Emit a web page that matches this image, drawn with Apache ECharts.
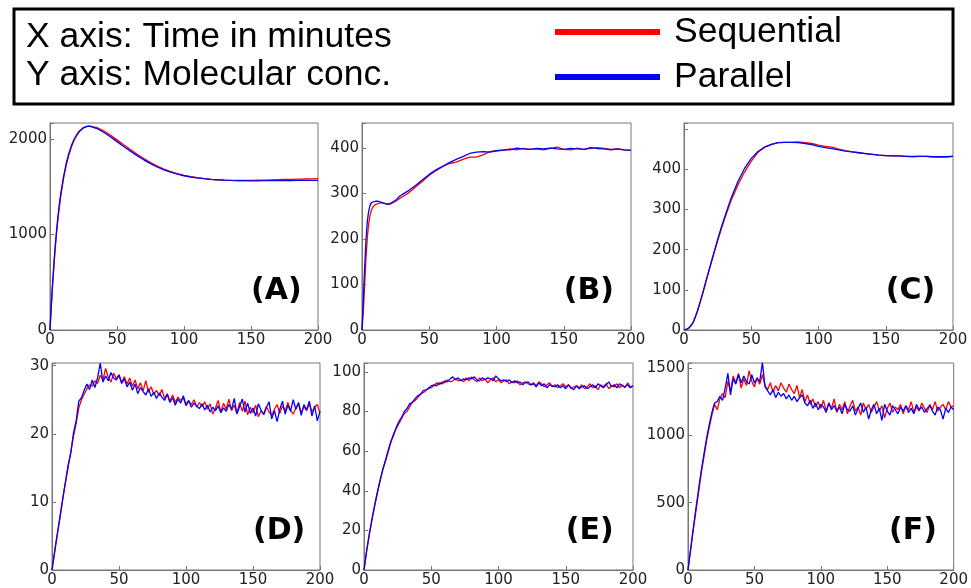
<!DOCTYPE html>
<html>
<head>
<meta charset="utf-8">
<script src="https://cdn.jsdelivr.net/npm/echarts@6/dist/echarts.min.js"></script>
<style>
  html, body { margin: 0; padding: 0; background: #fff; }
  #main { width: 971px; height: 588px; }
</style>
</head>
<body>
<div id="main"></div>
<script>
// sample times (minutes)
var tSmooth = [0, 1, 2, 3, 4, 5, 6, 7, 8, 10, 12, 14, 16, 18, 20, 22, 25, 28,
  30, 35, 40, 45, 50, 55, 60, 65, 70, 75, 80, 85, 90, 95, 100, 105, 110, 115, 120,
  125, 130, 135, 140, 145, 150, 155, 160, 165, 170, 175, 180, 185, 190, 195, 200];
var tNoisy = Array.from({ length: 101 }, function (_, i) { return i * 2; });

// (A)
var seqA = [0, 250, 480, 680, 870, 1030, 1170, 1290, 1400, 1580, 1720, 1830, 1920, 1990, 2040, 2080, 2118, 2135,
  2137, 2122, 2088, 2043, 1993, 1942, 1892, 1843, 1797, 1755, 1718, 1687, 1661, 1639, 1621, 1607, 1596, 1587, 1580,
  1575, 1571, 1568, 1567, 1567, 1568, 1570, 1572, 1574, 1576, 1578, 1580, 1582, 1583, 1585, 1586];
var parA = [0, 270, 510, 720, 900, 1060, 1200, 1320, 1425, 1600, 1740, 1848, 1933, 2000, 2050, 2086, 2122, 2136,
  2135, 2112, 2073, 2026, 1975, 1924, 1875, 1828, 1784, 1744, 1709, 1679, 1654, 1634, 1617, 1604, 1594, 1586, 1580,
  1575, 1571, 1568, 1566, 1565, 1564, 1564, 1565, 1565, 1566, 1567, 1567, 1568, 1568, 1568, 1568];

// (B)
var seqB = [0, 40, 100, 160, 205, 235, 252, 263, 270, 276, 278, 280, 279, 277, 276, 278, 283, 289,
  293, 302, 315, 327, 340, 350, 359, 366, 369, 375, 380, 380, 385, 392, 394, 395, 398, 396, 399,
  397, 398, 396, 399, 402, 397, 396, 400, 397, 399, 401, 399, 397, 398, 396, 395];
var parB = [0, 70, 140, 200, 240, 262, 274, 280, 283, 283, 283, 281, 279, 277, 277, 280, 285, 294,
  298, 307, 318, 330, 342, 352, 360, 368, 375, 381, 388, 391, 392, 391, 394, 396, 396, 400, 398,
  397, 399, 398, 400, 398, 397, 399, 398, 397, 401, 399, 398, 396, 398, 396, 395];

// (C)
var seqC = [0, 1, 2, 4, 6, 9, 14, 20, 28, 46, 68, 91, 116, 140, 164, 187, 222, 254,
  275, 322, 360, 393, 420, 442, 455, 462, 466, 467, 467, 468, 466, 464, 460, 457, 455, 450, 446,
  443, 441, 439, 437, 435, 434, 433, 433, 432, 431, 432, 432, 431, 430, 431, 432];
var parC = [0, 1, 2, 4, 6, 10, 15, 21, 29, 48, 70, 93, 118, 142, 166, 190, 225, 258,
  279, 328, 369, 402, 427, 444, 455, 462, 466, 467, 467, 466, 464, 461, 457, 454, 451, 448, 445,
  443, 441, 439, 437, 435, 434, 433, 433, 432, 432, 432, 432, 431, 431, 431, 432];

// (D)
var seqD = [0,
  2.6, 5.2, 7.7, 10.3, 12.8, 15.0, 17.4, 19.6, 21.5, 23.8,
  25.0, 25.8, 26.6, 27.2, 27.0, 27.8, 27.4, 28.6, 27.9, 29.6,
  28.3, 27.6, 28.9, 28.1, 28.7, 27.5, 28.4, 27.3, 28.2, 27.0,
  27.9, 26.6, 27.5, 26.3, 27.8, 26.1, 26.9, 25.8, 26.4, 25.6,
  26.5, 25.2, 25.9, 24.8, 25.7, 24.6, 25.4, 24.9, 25.3, 24.1,
  24.8, 24.3, 25.0, 23.9, 24.6, 24.0, 24.7, 23.6, 24.4, 22.9,
  23.8, 24.9, 23.2, 24.5, 23.6, 25.1, 23.4, 24.2, 23.0, 24.6,
  23.3, 24.8, 22.8, 23.9, 23.1, 24.2, 22.5, 23.4, 22.9, 24.0,
  23.2, 22.7, 23.6, 24.3, 23.0, 24.1, 23.3, 24.6, 23.5, 22.9,
  23.8, 24.4, 23.1, 24.0, 23.4, 24.5, 23.2, 23.9, 24.3, 23.0];
var parD = [0,
  2.8, 5.4, 7.9, 10.5, 12.9, 15.4, 17.1, 20.1, 21.9, 24.8,
  25.3, 26.4, 27.3, 26.5, 27.9, 26.8, 28.2, 30.4, 27.6, 28.5,
  27.8, 29.0, 28.2, 27.9, 28.6, 27.4, 28.1, 26.9, 27.6, 26.4,
  27.3, 25.9, 26.8, 26.2, 25.7, 26.6, 25.5, 26.1, 25.2, 26.0,
  25.4, 24.9, 25.8, 24.6, 25.3, 24.2, 25.1, 24.5, 25.6, 24.3,
  24.9, 23.9, 24.5, 24.1, 23.7, 24.4, 23.5, 24.2, 23.2, 23.9,
  23.4, 24.1, 23.1, 23.8, 23.3, 24.3, 23.6, 25.2, 22.9, 24.0,
  25.1, 23.2, 24.5, 23.0, 23.8, 22.6, 24.4, 23.5, 22.8, 23.9,
  24.7, 22.2, 23.4, 21.8, 23.6, 24.8, 22.9, 24.2, 23.3, 25.0,
  23.6, 24.6, 22.7, 24.3, 23.5, 24.8, 22.6, 24.1, 21.9, 23.3];

// (E)
var seqE = [0,
  9.5, 18, 25.5, 32.5, 39, 45, 50.5, 55, 59.5, 64.5,
  68, 71.5, 74, 76.5, 79, 80, 82.5, 85, 85.5, 87,
  89, 89.5, 90.5, 92, 92, 93, 94.5, 93.5, 95, 94.5,
  96, 95, 95.5, 96.5, 95.5, 96, 95, 97, 95.5, 97.5,
  96, 95, 97, 95.5, 96.5, 94.5, 96, 97, 95, 96,
  94.5, 95.5, 96, 94, 95, 94.5, 95.5, 93.5, 94.5, 95,
  94, 93.5, 94.5, 93, 95, 94, 92.5, 93.5, 94.5, 92.5,
  93.5, 92, 93, 94, 92.5, 93.5, 91.5, 92.5, 93, 92,
  93.5, 91.5, 92.5, 94, 92, 93, 91, 93.5, 92.5, 94,
  91.5, 93, 92.5, 94, 92, 93.5, 92, 94.5, 92.5, 93];
var parE = [0,
  10, 18.5, 26, 33, 39.5, 45.5, 51, 55.5, 60.5, 65,
  68.5, 72, 75, 77, 80, 81.5, 84, 84.5, 86.5, 88,
  88.5, 90.5, 91, 91.5, 93, 93.5, 93, 94.5, 94, 95.5,
  95, 96.5, 97.5, 96, 97, 95.5, 96.5, 96, 97, 96.5,
  97.5, 96, 95.5, 97, 96, 97, 96.5, 95.5, 98, 96.5,
  95.5, 96, 95, 96, 94.5, 95.5, 94.5, 95, 93.5, 94.5,
  95, 93.5, 94, 92.5, 94.5, 93, 94, 92, 93.5, 93,
  92.5, 93.5, 92, 93, 91.5, 93.5, 92, 91, 93, 91.5,
  92.5, 93, 91.5, 92.5, 93.5, 92, 94, 93, 92, 93.5,
  95, 92.5, 93.5, 92, 94, 93, 92.5, 93.5, 92, 93];

// (F)
var seqF = [0,
  150, 300, 440, 580, 720, 840, 960, 1060, 1150, 1230,
  1190, 1270, 1310, 1280, 1400, 1330, 1440, 1390, 1460, 1350,
  1420, 1370, 1480, 1400, 1360, 1430, 1380, 1450, 1370, 1340,
  1390, 1320, 1370, 1330, 1390, 1350, 1320, 1380, 1340, 1310,
  1370, 1280, 1340, 1250, 1300, 1230, 1270, 1210, 1250, 1200,
  1260, 1180, 1240, 1200, 1270, 1170, 1230, 1190, 1250, 1160,
  1220, 1260, 1180, 1210, 1150, 1240, 1190, 1230, 1170, 1210,
  1250, 1180, 1220, 1130, 1200, 1240, 1170, 1210, 1190, 1230,
  1160, 1220, 1190, 1250, 1170, 1210, 1180, 1240, 1200, 1170,
  1230, 1190, 1250, 1180, 1210, 1230, 1190, 1250, 1210, 1220];
var parF = [0,
  160, 310, 460, 600, 740, 860, 980, 1080, 1170, 1240,
  1250, 1290, 1260, 1350, 1460, 1300, 1420, 1380, 1450, 1390,
  1440, 1400, 1380, 1450, 1390, 1420, 1400, 1540, 1360, 1330,
  1300, 1340, 1280, 1320, 1290, 1310, 1270, 1300, 1260, 1290,
  1250, 1280, 1300, 1240, 1220, 1260, 1200, 1240, 1190, 1230,
  1210, 1170, 1240, 1190, 1220, 1180, 1210, 1160, 1230, 1190,
  1180, 1220, 1150, 1200, 1240, 1170, 1210, 1120, 1190, 1230,
  1160, 1200, 1110, 1230, 1180, 1150, 1220, 1190, 1160, 1210,
  1180, 1220, 1170, 1200, 1160, 1230, 1190, 1210, 1170, 1200,
  1220, 1180, 1150, 1210, 1190, 1120, 1200, 1170, 1210, 1190];

var panelNames = ['(A)', '(B)', '(C)', '(D)', '(E)', '(F)'];
var yMax = [2170, 455, 515, 30.4, 104.5, 1537];
var yStep = [1000, 100, 100, 10, 20, 500];
var yLabelTop = [2000, 400, 400, 30, 100, 1500];

var panels = [
  { t: tSmooth, seq: seqA, par: parA },
  { t: tSmooth, seq: seqB, par: parB },
  { t: tSmooth, seq: seqC, par: parC },
  { t: tNoisy, seq: seqD, par: parD },
  { t: tNoisy, seq: seqE, par: parE },
  { t: tNoisy, seq: seqF, par: parF }
];

// plot boxes in pixels
var boxes = [
  { left: 50, top: 123, width: 268, height: 207 },
  { left: 362, top: 123, width: 269, height: 207 },
  { left: 684, top: 123, width: 269, height: 207 },
  { left: 52, top: 363, width: 268, height: 207 },
  { left: 364, top: 363, width: 269, height: 207 },
  { left: 688, top: 363, width: 268, height: 207 }
];

var tickFont = { fontFamily: 'DejaVu Sans', fontSize: 15, color: '#222' };
var frame = '#777';

function pairs(t, v) {
  return t.map(function (x, i) { return [x, v[i]]; });
}

var grid = [], xAxis = [], yAxis = [], series = [], graphic = [];

boxes.forEach(function (b, i) {
  grid.push({
    left: b.left, top: b.top, width: b.width, height: b.height,
    show: true, borderColor: frame, borderWidth: 1, backgroundColor: '#fff'
  });
  xAxis.push({
    type: 'value', gridIndex: i, min: 0, max: 200, interval: 50,
    axisLine: { lineStyle: { color: frame } },
    axisTick: { inside: true, length: 4, lineStyle: { color: frame } },
    axisLabel: Object.assign({ margin: 3 }, tickFont),
    splitLine: { show: false }
  });
  var step = yStep[i], top = yLabelTop[i];
  yAxis.push({
    type: 'value', gridIndex: i, min: 0, max: yMax[i], interval: step,
    axisLine: { show: true, lineStyle: { color: frame } },
    axisTick: { show: true, inside: true, length: 4, lineStyle: { color: frame } },
    axisLabel: Object.assign({
      margin: 3,
      formatter: function (v) {
        return (Math.abs(v % step) < 1e-9 && v <= top) ? String(v) : '';
      }
    }, tickFont),
    splitLine: { show: false }
  });
  var p = panels[i];
  series.push({
    name: 'Sequential', type: 'line', xAxisIndex: i, yAxisIndex: i,
    data: pairs(p.t, p.seq), showSymbol: false, color: '#ff0000',
    lineStyle: { width: 1.3 }
  });
  series.push({
    name: 'Parallel', type: 'line', xAxisIndex: i, yAxisIndex: i,
    data: pairs(p.t, p.par), showSymbol: false, color: '#0000ff',
    lineStyle: { width: 1.3 }
  });
  graphic.push({
    type: 'text', z: 10,
    x: b.left + b.width * 0.75, y: b.top + b.height - 54,
    style: {
      text: panelNames[i], fill: '#000',
      font: 'bold 30px "DejaVu Sans"',
      verticalAlign: 'top'
    }
  });
});

// legend box and axis notes
graphic.push({
  type: 'rect', z: 0,
  shape: { x: 14, y: 9, width: 939, height: 95 },
  style: { fill: '#fff', stroke: '#000', lineWidth: 3 }
});
graphic.push({
  type: 'text', z: 10, x: 26, y: 19,
  style: { text: 'X axis: Time in minutes', fill: '#000', font: '35.5px "Liberation Sans"', verticalAlign: 'top' }
});
graphic.push({
  type: 'text', z: 10, x: 26, y: 57,
  style: { text: 'Y axis: Molecular conc.', fill: '#000', font: '35.5px "Liberation Sans"', verticalAlign: 'top' }
});

var chart = echarts.init(document.getElementById('main'), null, { renderer: 'canvas' });
chart.setOption({
  animation: false,
  backgroundColor: '#fff',
  legend: {
    data: ['Sequential', 'Parallel'],
    orient: 'vertical',
    left: 555, top: 12,
    padding: 0,
    icon: 'rect',
    itemWidth: 105, itemHeight: 6,
    itemGap: 5,
    z: 20,
    textStyle: { fontFamily: 'Liberation Sans', fontSize: 35.5, color: '#000', lineHeight: 40, padding: [0, 0, 0, 9] }
  },
  grid: grid,
  xAxis: xAxis,
  yAxis: yAxis,
  series: series,
  graphic: graphic
});
</script>
</body>
</html>
